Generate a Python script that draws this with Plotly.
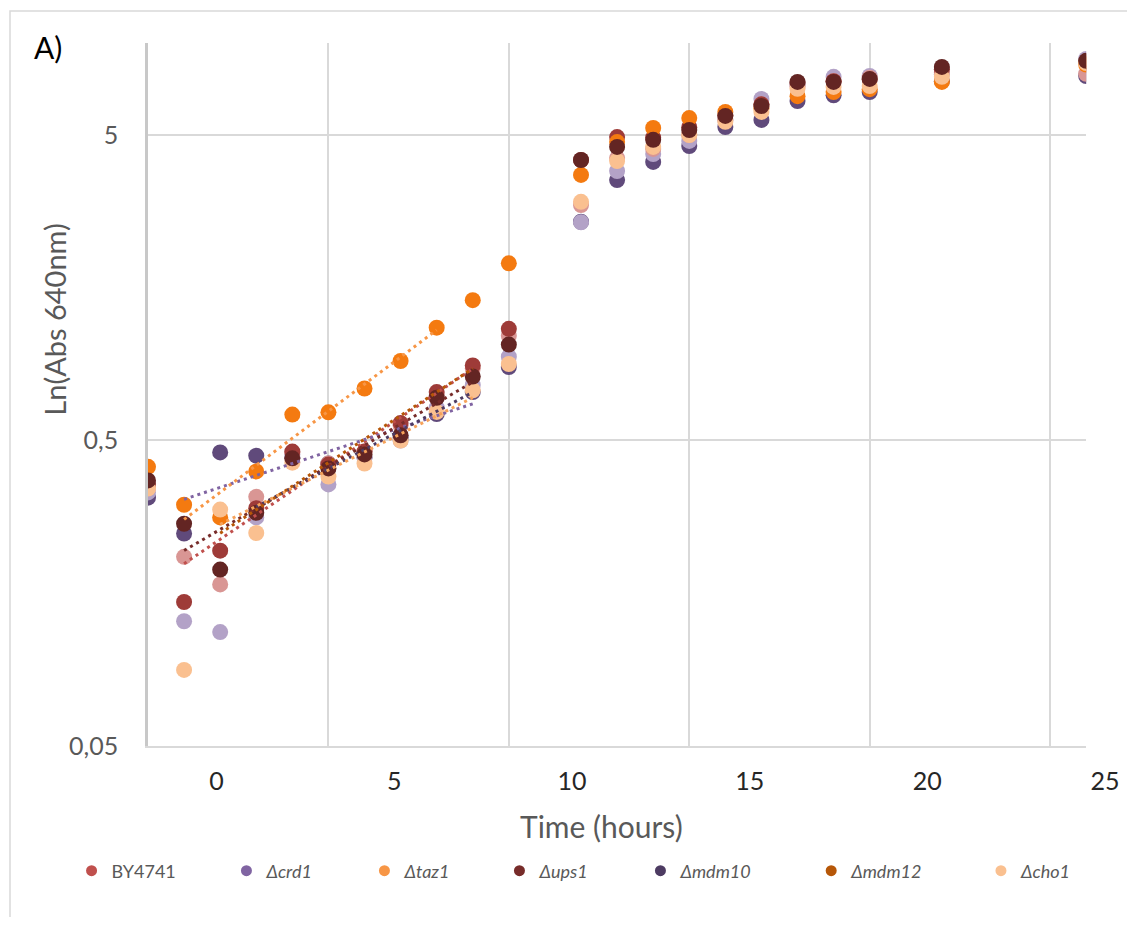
import numpy as np
import plotly.graph_objects as go

# ---------------- data ----------------
time_h = [-2, -1, 0, 1, 2, 3, 4, 5, 6, 7, 8, 10, 11, 12, 13, 14, 15, 16, 17, 18, 20, 24]

by4741 = [0.35, 0.208, 0.169, 0.327, 0.457, 0.42, 0.46, 0.56, 0.70, 0.86, 1.10,
          2.95, 4.20, 4.50, 5.00, 5.60, 6.30, 7.20, 7.50, 7.70, 8.00, 7.93]
crd1 = [0.325, 0.248, 0.457, 0.446, 0.44, 0.42, 0.44, 0.51, 0.61, 0.72, 0.87,
        2.60, 3.56, 4.08, 4.60, 5.31, 5.60, 6.46, 6.74, 6.91, 7.50, 7.80]
taz1 = [0.41, 0.308, 0.280, 0.396, 0.608, 0.618, 0.74, 0.91, 1.17, 1.44, 1.90,
        3.70, 4.74, 5.27, 5.68, 5.95, 6.10, 6.70, 6.91, 7.06, 7.46, 8.50]
ups1 = [0.37, 0.267, 0.189, 0.29, 0.437, 0.405, 0.45, 0.52, 0.69, 0.81, 1.03,
        4.14, 4.57, 4.82, 5.19, 5.77, 6.22, 7.46, 7.46, 7.63, 8.35, 8.74]
mdm10 = [0.338, 0.128, 0.118, 0.28, 0.45, 0.359, 0.44, 0.50, 0.64, 0.76, 0.94,
         2.59, 3.81, 4.33, 4.78, 5.60, 6.56, 7.30, 7.75, 7.80, 7.90, 8.87]
mdm12 = [0.36, 0.148, 0.218, 0.30, 0.46, 0.417, 0.46, 0.57, 0.72, 0.88, 1.16,
         4.14, 4.92, 4.90, 5.30, 5.80, 6.30, 7.40, 7.50, 7.60, 8.20, 8.70]
cho1 = [0.348, 0.0887, 0.297, 0.249, 0.423, 0.381, 0.42, 0.50, 0.62, 0.73, 0.89,
        3.02, 4.11, 4.57, 5.00, 5.52, 5.95, 7.08, 7.18, 7.23, 7.75, 8.60]

series_names = ["BY4741", "Δcrd1", "Δtaz1", "Δups1", "Δmdm10", "Δmdm12", "Δcho1"]
legend_labels = ["BY4741", "<i>Δcrd1</i>", "<i>Δtaz1</i>", "<i>Δups1</i>",
                 "<i>Δmdm10</i>", "<i>Δmdm12</i>", "<i>Δcho1</i>"]
series_values = [by4741, crd1, taz1, ups1, mdm10, mdm12, cho1]
legend_colors = ["#C0504D", "#8064A2", "#F79646", "#772C2A", "#4D3B62", "#B65708", "#FAC090"]
marker_colors = ["#D99694", "#604A7B", "#F47A10", "#632523", "#B3A2C7", "#9E3B38", "#FAC090"]
trend_colors = ["#C0504D", "#8064A2", "#F79646", "#772C2A", "#4D3B62", "#B65708", "#F6A25A"]
# exponential-phase window used for each trendline (hours)
trend_start = [-1, -1, -1, -1, 1, 0, 0]
trend_end = [7, 7, 6, 7, 7, 7, 7]
# drawing order of the marker series (bottom -> top)
draw_order = [1, 4, 0, 5, 2, 6, 3]

y_tick_vals = [0.05, 0.5, 5]
y_tick_text = ["0,05", "0,5", "5"]
x_tick_labels = [0, 5, 10, 15, 20, 25]

# ---------------- layout helpers (screen pixels -> paper) ----------------
OFF = 8                      # page body margin
W, H = 1135 - 2 * OFF, 925 - 2 * OFF
L, R, T, B = 148, 1120, 43, 746   # plot area in screen pixels
PW, PH = R - L, B - T
legend_dot_px = [90, 246, 385, 521, 663, 835, 1006]


def px(xp):
    return (xp - L) / PW


def py(yp):
    return (B - yp) / PH


font_family = "Lato, 'Open Sans', sans-serif"

fig = go.Figure()

t = np.array(time_h, dtype=float)
for i in draw_order:
    fig.add_trace(go.Scatter(
        x=time_h, y=series_values[i], mode="markers", name=series_names[i],
        marker=dict(size=16, color=marker_colors[i], line=dict(width=0)),
        showlegend=False, xaxis="x", yaxis="y"))

# exponential trendlines fitted on the exponential phase
for i in range(len(series_names)):
    v = np.array(series_values[i], dtype=float)
    m = (t >= trend_start[i]) & (t <= trend_end[i])
    k, c = np.polyfit(t[m], np.log(v[m]), 1)
    xs = np.linspace(trend_start[i], trend_end[i], 60)
    fig.add_trace(go.Scatter(
        x=xs, y=np.exp(c + k * xs), mode="lines",
        line=dict(color=trend_colors[i], width=3, dash="3px,4px"),
        showlegend=False, hoverinfo="skip", xaxis="x", yaxis="y"))

# legend entries, one small legend per entry so each sits where the reference has it
legend_layouts = {}
for i in range(len(series_names)):
    lname = "legend" if i == 0 else f"legend{i + 1}"
    fig.add_trace(go.Scatter(
        x=[None], y=[None], mode="markers", name=legend_labels[i], legend=lname,
        marker=dict(size=11, color=legend_colors[i]), xaxis="x", yaxis="y"))
    legend_layouts[lname] = dict(
        orientation="h", x=px(legend_dot_px[i] - 19), y=py(871),
        xanchor="left", yanchor="middle",
        font=dict(size=18, color="#595959", family=font_family),
        itemclick=False, bgcolor="rgba(0,0,0,0)", borderwidth=0)

# invisible trace holding the tick-label axis
fig.add_trace(go.Scatter(x=[None], y=[None], xaxis="x2", yaxis="y2",
                         showlegend=False, hoverinfo="skip"))

lab_per_px = 25 / (1112 - 217)
r0 = -(217 - L) * lab_per_px
r1 = r0 + PW * lab_per_px

fig.update_layout(
    width=W, height=H,
    margin=dict(l=L - OFF, r=W - (R - OFF), t=T - OFF, b=H - (B - OFF), pad=0),
    paper_bgcolor="white", plot_bgcolor="rgba(0,0,0,0)",
    font=dict(family=font_family, color="#595959"),
    showlegend=True,
    xaxis=dict(domain=[0, (1093 - L) / PW], range=[-2, 24], tick0=-2, dtick=5,
               showticklabels=False, ticks="", showgrid=True, gridcolor="#D9D9D9",
               gridwidth=1.5, showline=True, linecolor="#D9D9D9", linewidth=1.5,
               zeroline=False),
    yaxis=dict(type="log", range=[np.log10(0.05), 1.0], tickvals=y_tick_vals,
               ticktext=y_tick_text, showgrid=True, gridcolor="#D9D9D9", gridwidth=1.5,
               showline=True, linecolor="#C8C8C8", linewidth=2.5, zeroline=False,
               ticks="", ticklabelstandoff=22,
               tickfont=dict(size=25, color="#595959", family=font_family)),
    xaxis2=dict(domain=[0, 1], range=[r0, r1], tickvals=x_tick_labels,
                ticktext=[str(v) for v in x_tick_labels], anchor="y2",
                showgrid=False, showline=False, zeroline=False, ticks="",
                ticklabelstandoff=18,
                tickfont=dict(size=25, color="#262626", family=font_family)),
    yaxis2=dict(domain=[0, 1], range=[0, 1], anchor="x2", visible=False),
    shapes=[dict(type="rect", xref="paper", yref="paper",
                 x0=px(9), x1=px(1150), y0=py(940), y1=py(11),
                 line=dict(color="#D9D9D9", width=1.5), fillcolor="rgba(0,0,0,0)",
                 layer="below")],
    annotations=[
        dict(text="A)", xref="paper", yref="paper", x=px(31), y=py(47),
             xanchor="left", yanchor="middle", showarrow=False,
             font=dict(size=30, color="black", family=font_family)),
        dict(text="Time (hours)", xref="paper", yref="paper", x=px(605), y=py(826),
             xanchor="center", yanchor="middle", showarrow=False,
             font=dict(size=30, color="#595959", family=font_family)),
        dict(text="Ln(Abs 640nm)", xref="paper", yref="paper", x=px(53), y=py(320),
             xanchor="center", yanchor="middle", showarrow=False, textangle=-90,
             font=dict(size=29, color="#595959", family=font_family)),
    ],
    **legend_layouts,
)

fig.write_html("out.html")
